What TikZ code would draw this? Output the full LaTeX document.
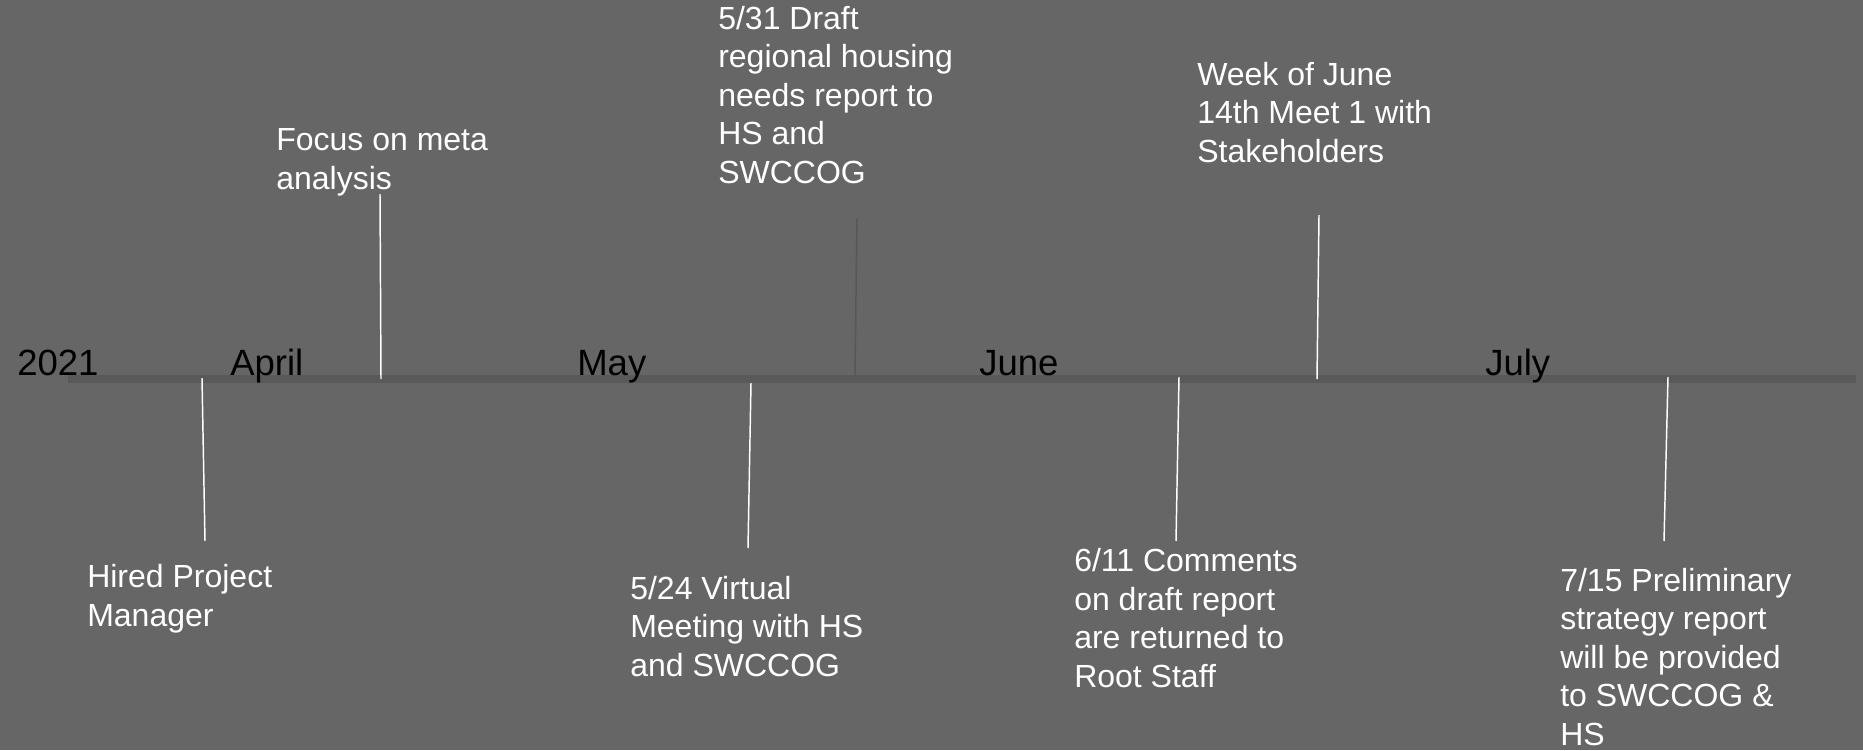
\documentclass[tikz,border=0pt]{standalone}
\usepackage{fontspec}
\setmainfont{Liberation Sans}
\definecolor{bg}{HTML}{666666}
\definecolor{barc}{HTML}{595959}
\definecolor{darktick}{HTML}{575757}
\begin{document}
\begin{tikzpicture}[x=0.75pt,y=-0.75pt,
  month/.style={anchor=base west,inner sep=0pt,text=black,font=\fontsize{27.4pt}{32pt}\selectfont},
  evt/.style={anchor=base west,inner sep=0pt,text=white,align=left,font=\fontsize{24pt}{28.8pt}\selectfont},
  tick/.style={draw=white,line width=1.1pt},
  darkline/.style={draw=darktick,line width=1.1pt},
  bar/.style={draw=barc,line width=6pt}]
\fill[bg] (0,0) rectangle (1863,750);
\useasboundingbox (0,0) rectangle (1863,750);
% timeline bar
\coordinate (b0) at (68,379);
\coordinate (b1) at (1856,379);
\draw[bar] (b0) -- (b1);
% month labels
\node[month] (y2021) at (17,375) {2021};
\node[month] (apr) at (230,375) {April};
\node[month] (may) at (577,375) {May};
\node[month] (jun) at (979,375) {June};
\node[month] (jul) at (1485,375) {July};
% events (anchored at the baseline of the last line)
\node[evt] (e1) at (87,626) {Hired Project\\Manager};
\node[evt] (e2) at (276,189) {Focus on meta\\analysis};
\node[evt] (e3) at (718,183) {5/31 Draft\\regional housing\\needs report to\\HS and\\SWCCOG};
\node[evt] (e4) at (630,676) {5/24 Virtual\\Meeting with HS\\and SWCCOG};
\node[evt] (e5) at (1074,687) {6/11 Comments\\on draft report\\are returned to\\Root Staff};
\node[evt] (e6) at (1197,162) {Week of June\\14th Meet 1 with\\Stakeholders};
\node[evt] (e7) at (1560,745) {7/15 Preliminary\\strategy report\\will be provided\\to SWCCOG \&\\HS};
% tick lines
\coordinate (t1a) at (202,378); \coordinate (t1b) at (205,541);
\coordinate (t2a) at (381,379); \coordinate (t2b) at (380,194);
\coordinate (t3a) at (855,375); \coordinate (t3b) at (857,218);
\coordinate (t4a) at (751,383); \coordinate (t4b) at (748,548);
\coordinate (t5a) at (1179,377); \coordinate (t5b) at (1176,541);
\coordinate (t6a) at (1317,379); \coordinate (t6b) at (1319,215);
\coordinate (t7a) at (1668,377); \coordinate (t7b) at (1664,541);
\draw[tick] (t1a) -- (t1b);
\draw[tick] (t2a) -- (t2b);
\draw[darkline] (t3a) -- (t3b);
\draw[tick] (t4a) -- (t4b);
\draw[tick] (t5a) -- (t5b);
\draw[tick] (t6a) -- (t6b);
\draw[tick] (t7a) -- (t7b);
\end{tikzpicture}
\end{document}
